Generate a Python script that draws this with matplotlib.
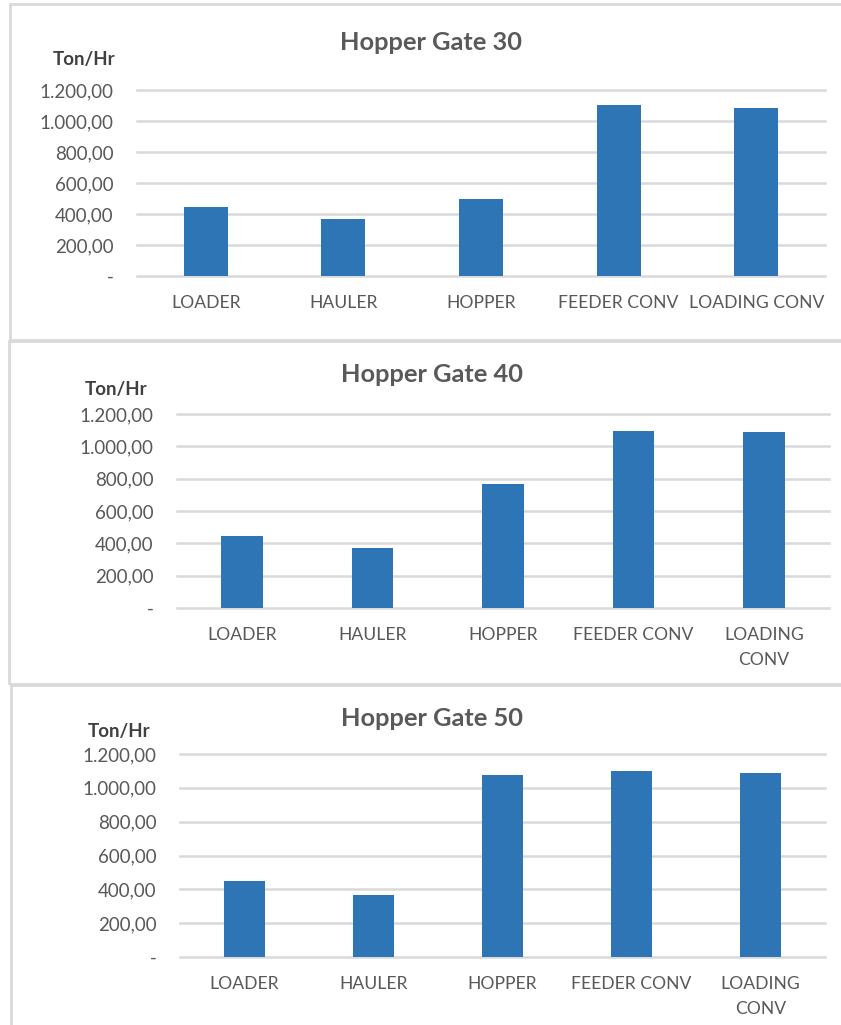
import matplotlib
matplotlib.use("Agg")
import matplotlib.pyplot as plt
from matplotlib.patches import Rectangle
from matplotlib.ticker import FuncFormatter

plt.rcParams['font.family'] = ['Lato', 'DejaVu Sans']

categories = ["LOADER", "HAULER", "HOPPER", "FEEDER CONV", "LOADING CONV"]
titles = ["Hopper Gate 30", "Hopper Gate 40", "Hopper Gate 50"]
gate30 = [445, 368, 497, 1102, 1085]
gate40 = [443, 369, 767, 1097, 1089]
gate50 = [447, 368, 1073, 1101, 1087]
yticks = [0, 200, 400, 600, 800, 1000, 1200]

W, H = 841, 1025
BAR = "#2E75B6"
GRID = "#D9D9D9"
TXT = "#595959"


def fmt(v, _pos=None):
    if v == 0:
        return "-"
    s = f"{v:,.2f}"
    return s.replace(",", "X").replace(".", ",").replace("X", ".")


fig = plt.figure(figsize=(W / 100, H / 100), dpi=100)

# panel boxes (pixels): left, top, bottom
boxes = [(10, 4, 340), (9, 341, 684), (11, 685, 1030)]
for l, t, b in boxes:
    fig.patches.append(Rectangle((l / W, 1 - b / H), (W + 20 - l) / W, (b - t) / H,
                                 transform=fig.transFigure, fill=False,
                                 edgecolor="#D9D9D9", lw=2, zorder=0))

# axes layout (pixels): x0, x1, ytop(1200), ybottom(0), title xy, unit xy, wrap last label
layout = [
    dict(x0=137, x1=825, yt=90, yb=276, title=(431, 42), unit=(84, 60), wrap=False),
    dict(x0=177, x1=829, yt=414, yb=608, title=(432, 374), unit=(116, 390), wrap=True),
    dict(x0=180, x1=825, yt=754, yb=957, title=(432, 719), unit=(119, 731), wrap=True),
]

for vals, title, L in zip([gate30, gate40, gate50], titles, layout):
    ax = fig.add_axes([L["x0"] / W, 1 - L["yb"] / H, (L["x1"] - L["x0"]) / W,
                       (L["yb"] - L["yt"]) / H])
    ax.bar(range(len(categories)), vals, width=0.32, color=BAR, zorder=3)
    ax.set_xlim(-0.5, len(categories) - 0.5)
    ax.set_ylim(0, 1200)
    ax.set_yticks(yticks)
    ax.yaxis.set_major_formatter(FuncFormatter(fmt))
    ax.grid(axis="y", color=GRID, lw=1.8, zorder=0)
    for gl in ax.get_ygridlines():
        gl.set_clip_on(False)
    ax.set_axisbelow(True)
    for s in ["top", "right", "left", "bottom"]:
        ax.spines[s].set_visible(False)
    ax.tick_params(length=0, labelcolor=TXT)
    ax.tick_params(axis="y", pad=17, labelsize=13.5)
    ax.tick_params(axis="x", pad=14, labelsize=12.6)
    labels = list(categories)
    if L["wrap"]:
        labels[-1] = "LOADING\nCONV"
    ax.set_xticks(range(len(categories)))
    ax.set_xticklabels(labels, va="top", linespacing=1.65)
    fig.text(L["title"][0] / W, 1 - L["title"][1] / H, title, ha="center", va="center",
             fontsize=18.3, fontweight="bold", color=TXT)
    fig.text(L["unit"][0] / W, 1 - L["unit"][1] / H, "Ton/Hr", ha="center", va="center",
             fontsize=13.5, fontweight="bold", color="#404040")

fig.savefig("out.png", dpi=100)
